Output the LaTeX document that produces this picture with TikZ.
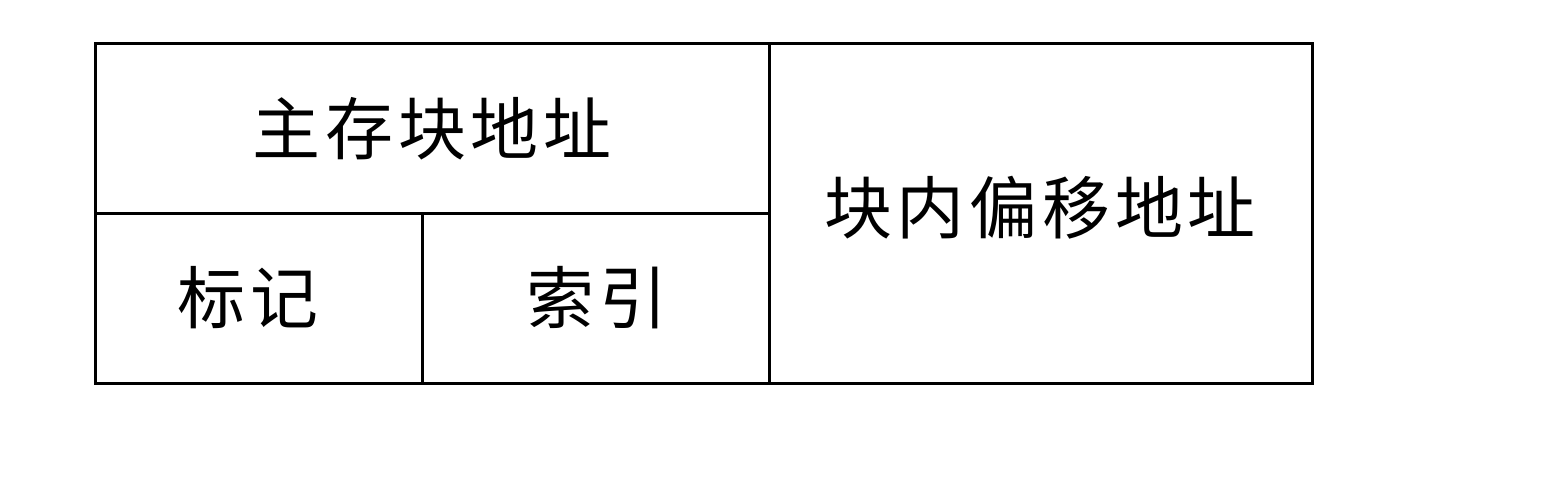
\documentclass[tikz,border=0pt]{standalone}
\usepackage{fontspec}
\newfontfamily\cjk[LetterSpace=7]{Noto Sans CJK SC}
\tikzset{
  cell/.style={draw=black, line width=3pt},
  label/.style={font=\cjk\fontsize{68}{80}\selectfont, inner sep=0pt, text=black}
}
\begin{document}
\begin{tikzpicture}[x=1pt,y=-1pt]
\useasboundingbox[fill=white] (0,0) rectangle (1546,500);
\draw[cell] (95,44) rectangle (1312,383);
\draw[cell] (769,44) -- (769,383);
\draw[cell] (95,213) -- (769,213);
\draw[cell] (422,213) -- (422,383);
\node[label] (main) at (432,129) {主存块地址};
\node[label] (offset) at (1040,208) {块内偏移地址};
\node[label] (tag) at (248,298) {标记};
\node[label] (index) at (597,298) {索引};
\end{tikzpicture}
\end{document}
